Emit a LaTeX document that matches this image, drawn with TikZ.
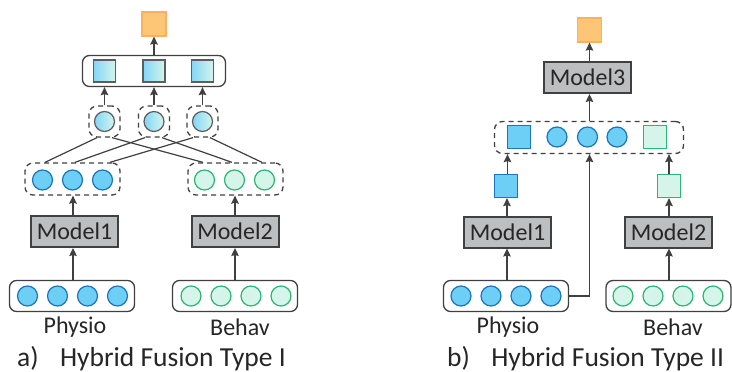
\documentclass[tikz,border=0pt]{standalone}
\usepackage{fontspec}
\setmainfont{Carlito}
\usetikzlibrary{arrows.meta}
\definecolor{bluefill}{HTML}{6DCFF6}
\definecolor{blueline}{HTML}{1C75BC}
\definecolor{greenfill}{HTML}{D5F5EA}
\definecolor{greenline}{HTML}{2BB673}
\definecolor{orfill}{HTML}{FDC676}
\definecolor{orline}{HTML}{FBB061}
\definecolor{modelfill}{HTML}{BCBEC0}
\definecolor{ink}{HTML}{404040}
\tikzset{
  bcirc/.style={circle, draw=blueline, fill=bluefill, line width=1.2pt, minimum size=20pt, inner sep=0pt},
  gcirc/.style={circle, draw=greenline, fill=greenfill, line width=1.2pt, minimum size=20pt, inner sep=0pt},
  mcirc/.style={circle, draw=ink!85, left color=bluefill!85, right color=greenfill, line width=1.2pt, minimum size=20pt, inner sep=0pt},
  msq/.style={rectangle, draw=ink!85, left color=bluefill!85, right color=greenfill, line width=1.4pt, minimum size=22pt, inner sep=0pt},
  bsq/.style={rectangle, draw=blueline, fill=bluefill, line width=1.2pt, minimum size=23pt, inner sep=0pt},
  gsq/.style={rectangle, draw=greenline, fill=greenfill, line width=1.2pt, minimum size=23pt, inner sep=0pt},
  osq/.style={rectangle, draw=orline, fill=orfill, line width=1.2pt, minimum size=24pt, inner sep=0pt},
  model/.style={rectangle, draw=ink, fill=modelfill, line width=2pt, minimum width=87pt, minimum height=31pt, inner sep=0pt, font=\fontsize{24}{28}\selectfont, text=black!85},
  inbox/.style={rectangle, rounded corners=7pt, draw=ink, line width=1.3pt, minimum width=125pt, minimum height=31pt},
  dbox/.style={rectangle, rounded corners=8pt, draw=ink, dash pattern=on 5pt off 4pt, line width=1.3pt},
  arr/.style={-{Stealth[length=8pt,width=7.5pt,inset=1pt]}, draw=ink, line width=1.4pt},
  link/.style={draw=ink, line width=1.2pt},
  lbl/.style={font=\fontsize{24}{28}\selectfont, text=black!85},
  capt/.style={font=\fontsize{27.5}{32}\selectfont, text=black!85, anchor=base west, inner sep=0pt},
}
\begin{document}
\begin{tikzpicture}[x=1pt, y=-1pt]
  \useasboundingbox (0,0) rectangle (732,372);
  % a) hybrid fusion type I
  \begin{scope}
    \node[osq] (ao) at (154,24) {};
    \node[inbox, minimum width=143pt] (atop) at (154,71) {};
    \draw[arr] (atop.north) -- (ao.south);
    \foreach \i/\x in {1/104.5, 2/154, 3/202.5} {
      \node[msq] (s\i) at (\x,71) {};
      \node[dbox, minimum width=31pt, minimum height=31pt] (f\i) at (\x,121.5) {};
      \node[mcirc] (c\i) at (\x,121.5) {};
      \draw[arr] (f\i.north) -- (f\i.north |- atop.south);
    }
    \node[dbox, minimum width=95pt, minimum height=32pt] (lf) at (72.5,179) {};
    \node[dbox, minimum width=95pt, minimum height=32pt] (rf) at (235.5,179) {};
    \foreach \i/\x in {1/42.5, 2/72.5, 3/102.5} {
      \node[bcirc] (lc\i) at (\x,180) {};
    }
    \foreach \i/\x in {1/204.5, 2/234.5, 3/264.5} {
      \node[gcirc] (rc\i) at (\x,180) {};
    }
    \draw[link] ([xshift=-7.5pt]f1.south) -- ([xshift=-27.5pt]lf.north);
    \draw[link] ([xshift=-9pt]f2.south) -- ([xshift=2.5pt]lf.north);
    \draw[link] ([xshift=-9.5pt]f3.south) -- ([xshift=37.5pt]lf.north);
    \draw[link] ([xshift=7.5pt]f1.south) -- ([xshift=-32.5pt]rf.north);
    \draw[link] ([xshift=8pt]f2.south) -- ([xshift=-3.5pt]rf.north);
    \draw[link] ([xshift=7.5pt]f3.south) -- ([xshift=26.5pt]rf.north);
    \node[model] (m1) at (74.5,231.5) {Model1};
    \node[model] (m2) at (235,231.5) {Model2};
    \draw[arr] ([xshift=-1.5pt]m1.north) -- ([xshift=-1.5pt]m1.north |- lf.south);
    \draw[arr] (m2.north) -- (m2.north |- rf.south);
    \node[inbox] (pa) at (72,296) {};
    \node[inbox] (ba) at (235,296) {};
    \foreach \i in {0,...,3} {
      \node[bcirc] (pa\i) at (27.5+30*\i,296) {};
      \node[gcirc] (ba\i) at (191+30*\i,296) {};
    }
    \draw[arr] ([xshift=-1.5pt]m1.south |- pa.north) -- ([xshift=-1.5pt]m1.south);
    \draw[arr] (m2.south |- ba.north) -- (m2.south);
    \node[lbl] (pla) at (75,327) {Physio};
    \node[lbl] (bla) at (240,327) {Behav};
    \node[capt] (capa) at (17,366) {a)\hspace{0.55em} Hybrid Fusion Type I};
  \end{scope}
  % b) hybrid fusion type II
  \begin{scope}[xshift=420pt]
    \node[osq] (bo) at (169.5,30) {};
    \node[model] (m3) at (167.5,77.5) {Model3};
    \draw[arr] (m3.north -| bo) -- (bo.south);
    \node[dbox, minimum width=189pt, minimum height=32pt] (fb) at (169,137.5) {};
    \node[bsq] (fs1) at (99,137) {};
    \foreach \i/\x in {1/137, 2/167.5, 3/197} {
      \node[bcirc] (fc\i) at (\x,137) {};
    }
    \node[gsq] (fs2) at (235,137) {};
    \draw[arr] (fb.north -| bo) -- (m3.south -| bo);
    \node[bsq] (bs) at (86,186) {};
    \node[gsq] (gs) at (249,186) {};
    \draw[arr] ([xshift=1.5pt]bs.north) -- ([xshift=1.5pt]bs.north |- fb.south);
    \draw[arr] (gs.north) -- (gs.north |- fb.south);
    \node[model] (m4) at (87.5,232) {Model1};
    \node[model] (m5) at (248.5,232) {Model2};
    \draw[arr] ([xshift=1pt]m4.north -| bs) -- ([xshift=1pt]bs.south);
    \draw[arr] (m5.north -| gs) -- (gs.south);
    \node[inbox] (pb) at (86,296) {};
    \node[inbox] (bb) at (248.5,296) {};
    \foreach \i in {0,...,3} {
      \node[bcirc] (pb\i) at (41+30*\i,296) {};
      \node[gcirc] (bb\i) at (203+30*\i,296) {};
    }
    \draw[arr] ([xshift=1pt]pb.north -| bs) -- ([xshift=1pt]m4.south -| bs);
    \draw[arr] (bb.north -| gs) -- (m5.south -| gs);
    \draw[arr] (pb.east) -| (fb.south -| bo);
    \node[lbl] (plb) at (88,327) {Physio};
    \node[lbl] (blb) at (253,327) {Behav};
    \node[capt] (capb) at (27,366) {b)\hspace{0.55em} Hybrid Fusion Type II};
  \end{scope}
\end{tikzpicture}
\end{document}
